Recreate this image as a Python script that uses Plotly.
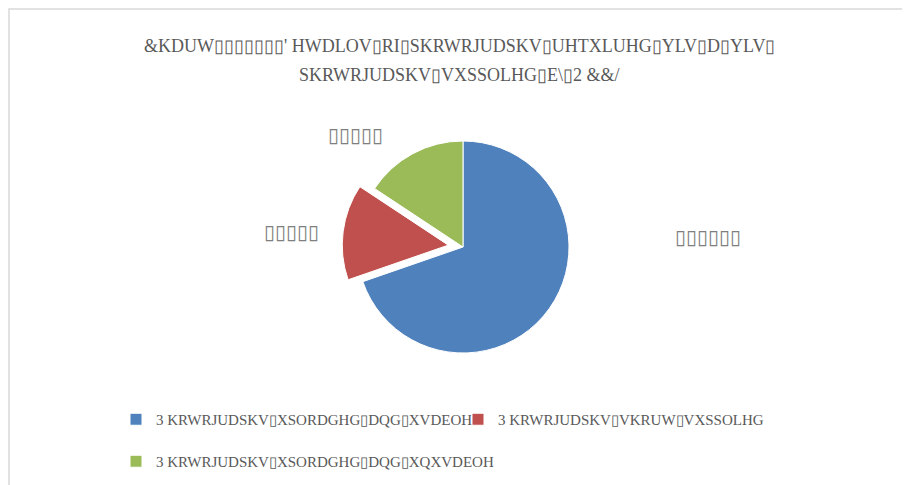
import plotly.graph_objects as go

# Text as shown in the reference (font-encoding shifted glyphs; ▯ = missing-glyph boxes)
title_lines = ["&KDUW▯▯▯▯▯▯▯' HWDLOV▯RI▯SKRWRJUDSKV▯UHTXLUHG▯YLV▯D▯YLV▯",
               "SKRWRJUDSKV▯VXSSOLHG▯E\\▯2 &&/"]
categories = ["3 KRWRJUDSKV▯XSORDGHG▯DQG▯XVDEOH",
              "3 KRWRJUDSKV▯VKRUW▯VXSSOLHG",
              "3 KRWRJUDSKV▯XSORDGHG▯DQG▯XQXVDEOH"]
values = [69.7, 14.6, 15.7]
data_labels = ["▯▯▯▯▯▯", "▯▯▯▯▯", "▯▯▯▯▯"]
colors = ["#4F81BD", "#C0504D", "#9BBB59"]
pulls = [0, 0.14, 0]

OFF = 8  # page offset of the figure inside the window
W, H = 902, 477
cx, cy, r = 463 - OFF, 247 - OFF, 106
half = r * (1 + max(pulls))

# first legend row is given extra height so the second row sits lower
legend_names = [categories[0] + "<br> ", categories[1] + "<br> ", categories[2]]

fig = go.Figure(go.Pie(
    labels=legend_names, values=values, sort=False, direction="clockwise",
    rotation=0, pull=pulls, textinfo="none", hoverinfo="label+value",
    marker=dict(colors=colors, line=dict(color="white", width=1)),
    domain=dict(x=[(cx - half) / W, (cx + half) / W],
                y=[(H - cy - half) / H, (H - cy + half) / H]),
))

label_pos = [(708, 237), (291, 232), (355, 135)]
for txt, (lx, ly) in zip(data_labels, label_pos):
    fig.add_annotation(text=txt, x=(lx - OFF) / W, y=1 - (ly - OFF) / H, xref="paper", yref="paper",
                       showarrow=False, xanchor="center", yanchor="middle",
                       font=dict(family="DejaVu Sans", size=20, color="#7F7F7F"))

for line, ty in zip(title_lines, [46, 75]):
    fig.add_annotation(text=line, x=0.5, y=1 - (ty - OFF) / H,
                       xref="paper", yref="paper", xanchor="center", yanchor="middle",
                       showarrow=False, align="center",
                       font=dict(family="Liberation Serif", size=18, color="#595959"))

fig.add_shape(type="rect", xref="paper", yref="paper",
              x0=1 / W, y0=-0.1, x1=1.1, y1=1 - 1 / H,
              line=dict(color="#D9D9D9", width=1.5), fillcolor="rgba(0,0,0,0)")

fig.update_layout(
    width=W, height=H, margin=dict(l=0, r=0, t=0, b=0),
    paper_bgcolor="white", plot_bgcolor="white",
    showlegend=True,
    legend=dict(orientation="h", x=(116 - OFF) / W, y=1 - (403 - OFF) / H,
                xanchor="left", yanchor="top", valign="top",
                entrywidth=297, font=dict(family="Liberation Serif", size=15, color="#595959"),
                itemwidth=30, tracegroupgap=0),
)

fig.write_html("out.html")
